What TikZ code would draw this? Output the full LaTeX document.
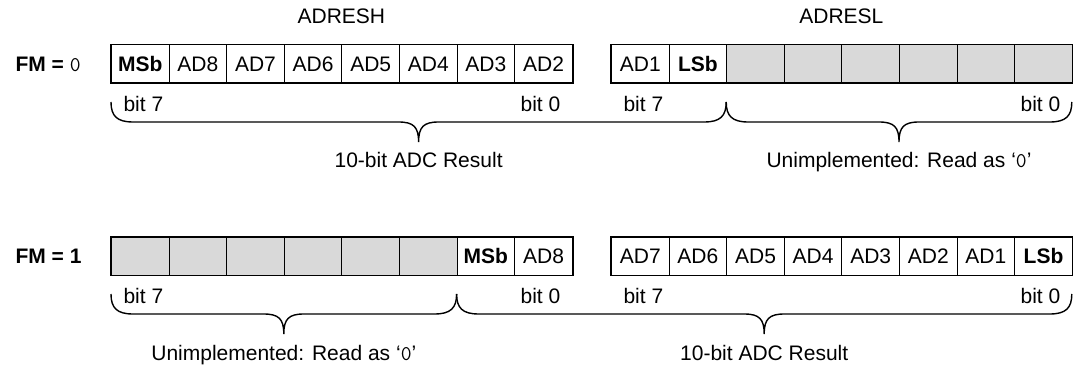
\documentclass[tikz,border=0pt]{standalone}
\usepackage{fontspec}
\setmainfont{Liberation Sans}
\usetikzlibrary{positioning,calc}

\definecolor{unimplgray}{HTML}{D9D9D9}

% curly brace under a register field: x left, x right, y top, name of tip
\newcommand{\fieldbrace}[4]{%
  \pgfmathsetmacro{\bracemid}{(#1+#2)/2}
  \draw[brace] (#1,#3) .. controls (#1,#3+14) and (#1+6,#3+20) .. (#1+22,#3+20)
    -- (\bracemid-20,#3+20) .. controls (\bracemid-5,#3+20) and (\bracemid,#3+25) .. (\bracemid,#3+40)
    .. controls (\bracemid,#3+25) and (\bracemid+5,#3+20) .. (\bracemid+20,#3+20)
    -- (#2-22,#3+20) .. controls (#2-6,#3+20) and (#2,#3+14) .. (#2,#3);
  \coordinate (#4) at (\bracemid,#3+40);
}

\begin{document}
\begin{tikzpicture}[x=1pt, y=-1pt, font=\fontsize{21}{25}\selectfont,
    cell/.style={draw, line width=1pt, minimum width=57.6pt, minimum height=38pt, inner sep=0pt, anchor=west},
    unimpl/.style={cell, fill=unimplgray},
    regframe/.style={draw, line width=1.8pt},
    brace/.style={line width=1.4pt}]
    \useasboundingbox (0,0) rectangle (1073,366);

    % Register names
    \node[anchor=base] (adresh) at (341.4,24) {ADRESH};
    \node[anchor=base] (adresl) at (841.4,24) {ADRESL};

    % FM = 0 (left justified)
    \node[anchor=west] (fm0) at (12,64) {\textbf{FM =} \texttt{0}};
    \foreach \lbl [count=\i from 0] in {\textbf{MSb},AD8,AD7,AD6,AD5,AD4,AD3,AD2}
        \node[cell] (hA\i) at ({111+\i*57.6},64) {\lbl};
    \foreach \lbl [count=\i from 0] in {AD1,\textbf{LSb}}
        \node[cell] (lA\i) at ({611+\i*57.6},64) {\lbl};
    \foreach \i in {2,...,7}
        \node[unimpl] (lA\i) at ({611+\i*57.6},64) {};
    \draw[regframe] (hA0.north west) rectangle (hA7.south east);
    \draw[regframe] (lA0.north west) rectangle (lA7.south east);

    \node[anchor=base west] (hAbit7) at ($(hA0.south west)+(9,28)$) {bit 7};
    \node[anchor=base east] (hAbit0) at ($(hA7.south east)+(-9,28)$) {bit 0};
    \node[anchor=base west] (lAbit7) at ($(lA0.south west)+(9,28)$) {bit 7};
    \node[anchor=base east] (lAbit0) at ($(lA7.south east)+(-9,28)$) {bit 0};

    \fieldbrace{111}{726.2}{102}{tipA}
    \fieldbrace{726.2}{1071.8}{102}{tipB}
    \node[anchor=base] (resA) at ($(tipA)+(0,26)$) {10-bit ADC Result};
    \node[anchor=base] (unA) at ($(tipB)+(0,26)$) {Unimplemented: Read as `\texttt{0}'};

    % FM = 1 (right justified)
    \node[anchor=west] (fm1) at (12,256) {\textbf{FM = 1}};
    \foreach \i in {0,...,5}
        \node[unimpl] (hB\i) at ({111+\i*57.6},256) {};
    \foreach \lbl [count=\i from 6] in {\textbf{MSb},AD8}
        \node[cell] (hB\i) at ({111+\i*57.6},256) {\lbl};
    \foreach \lbl [count=\i from 0] in {AD7,AD6,AD5,AD4,AD3,AD2,AD1,\textbf{LSb}}
        \node[cell] (lB\i) at ({611+\i*57.6},256) {\lbl};
    \draw[regframe] (hB0.north west) rectangle (hB7.south east);
    \draw[regframe] (lB0.north west) rectangle (lB7.south east);

    \node[anchor=base west] (hBbit7) at ($(hB0.south west)+(9,28)$) {bit 7};
    \node[anchor=base east] (hBbit0) at ($(hB7.south east)+(-9,28)$) {bit 0};
    \node[anchor=base west] (lBbit7) at ($(lB0.south west)+(9,28)$) {bit 7};
    \node[anchor=base east] (lBbit0) at ($(lB7.south east)+(-9,28)$) {bit 0};

    \fieldbrace{111}{456.6}{294}{tipC}
    \fieldbrace{456.6}{1071.8}{294}{tipD}
    \node[anchor=base] (unB) at ($(tipC)+(0,26)$) {Unimplemented: Read as `\texttt{0}'};
    \node[anchor=base] (resB) at ($(tipD)+(0,26)$) {10-bit ADC Result};
\end{tikzpicture}
\end{document}
